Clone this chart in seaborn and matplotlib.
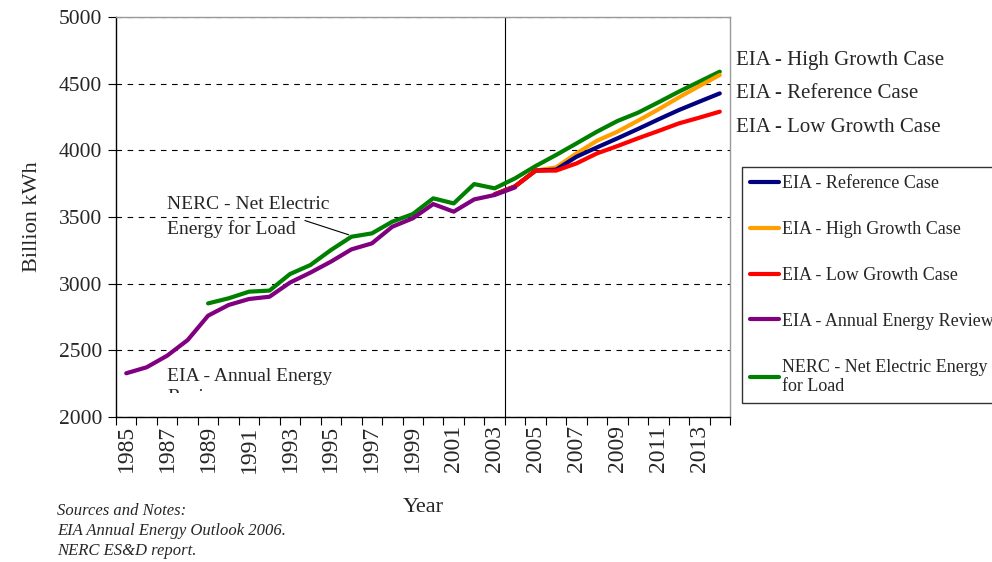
import numpy as np
import pandas as pd
import matplotlib
matplotlib.use("Agg")
import matplotlib.pyplot as plt
from matplotlib.patches import Rectangle
import seaborn as sns

# data (billion kWh)
years_aer = list(range(1985, 2005))
aer = [2328, 2373, 2460, 2577, 2760, 2840, 2885, 2902, 3008, 3083,
       3165, 3257, 3302, 3427, 3490, 3597, 3540, 3632, 3665, 3722]

years_nerc = list(range(1989, 2015))
nerc = [2852, 2890, 2940, 2948, 3072, 3140, 3252, 3352, 3377, 3465,
        3522, 3640, 3602, 3747, 3715, 3790, 3882, 3965, 4052, 4140,
        4220, 4282, 4360, 4440, 4515, 4590]

years_proj = list(range(2003, 2015))
ref_case = [3670, 3730, 3848, 3855, 3952, 4022, 4090, 4160, 4232, 4302, 4365, 4427]
high_case = [3670, 3730, 3848, 3872, 3977, 4072, 4140, 4222, 4307, 4397, 4482, 4565]
low_case = [3670, 3730, 3848, 3848, 3902, 3977, 4032, 4090, 4145, 4202, 4245, 4290]

year_labels = list(range(1985, 2015, 2))

sns.set_theme(style="white")
plt.rcParams["font.family"] = ["Liberation Serif", "DejaVu Serif"]

fig = plt.figure(figsize=(9.92, 5.62), dpi=100)
ax = fig.add_axes([116/992, 1-417/562, 614/992, 400/562])

series = [
    ("EIA - Reference Case", years_proj, ref_case, "#000080"),
    ("EIA - High Growth Case", years_proj, high_case, "#FFA000"),
    ("EIA - Low Growth Case", years_proj, low_case, "#FF0000"),
    ("EIA - Annual Energy Review", years_aer, aer, "#800080"),
    ("NERC - Net Electric Energy\nfor Load", years_nerc, nerc, "#008000"),
]
zorders = [4, 3, 5, 6, 2]
for (name, x, y, c), z in zip(series, zorders):
    df = pd.DataFrame({"Year": x, "kWh": y})
    sns.lineplot(data=df, x="Year", y="kWh", color=c, lw=3, label=name,
                 ax=ax, zorder=z, legend=False)

ax.set_xlim(1984.5, 2014.5)
ax.set_ylim(2000, 5000)
ax.set_yticks(np.arange(2000, 5001, 500))
ax.yaxis.grid(True, color="black", ls=(0, (5, 5)), lw=0.8)
ax.xaxis.grid(False)
ax.axvline(2003.5, color="black", lw=0.8, zorder=1)

ax.set_xticks(np.arange(1984.5, 2015, 1))
ax.set_xticklabels([])
ax.set_xticks(year_labels, minor=True)
ax.set_xticklabels([str(y) for y in year_labels], minor=True, rotation=90, fontsize=17)
ax.tick_params(axis="x", which="major", direction="out", length=6, width=0.8,
               color="black", bottom=True)
ax.tick_params(axis="x", which="minor", length=0, pad=6)
ax.tick_params(axis="y", direction="out", length=6, width=0.8, color="black",
               left=True, labelsize=15.5, pad=4)

for side in ["left", "bottom"]:
    ax.spines[side].set_color("black")
    ax.spines[side].set_linewidth(1.0)
for side in ["top", "right"]:
    ax.spines[side].set_color("#999999")
    ax.spines[side].set_linewidth(1.0)

ax.set_xlabel("Year", fontsize=16, labelpad=18)
ax.set_ylabel("Billion kWh", fontsize=16, labelpad=12)

# in-chart labels
ax.text(1987.0, 3500, "NERC - Net Electric\nEnergy for Load", fontsize=14,
        va="center", ha="left", linespacing=1.45)
ax.annotate("", xy=(1996.0, 3360), xytext=(1993.6, 3480),
            arrowprops=dict(arrowstyle="-", color="black", lw=0.8))
t = ax.text(1987.0, 2370, "EIA - Annual Energy\nReview", fontsize=14,
            va="top", ha="left", linespacing=1.35, clip_on=True)
t.set_clip_path(Rectangle((1984.5, 2180), 20, 300, transform=ax.transData))

fig.text(736/992, 1-60/562, "EIA - High Growth Case", fontsize=15, va="center")
fig.text(736/992, 1-93/562, "EIA - Reference Case", fontsize=15, va="center")
fig.text(736/992, 1-127/562, "EIA - Low Growth Case", fontsize=15, va="center")

fig.text(57/992, 1-531/562, "Sources and Notes:\nEIA Annual Energy Outlook 2006.\nNERC ES&D report.",
         fontsize=12, style="italic", va="center", ha="left", linespacing=1.3)

handles, labels = ax.get_legend_handles_labels()
leg = fig.legend(handles, labels, loc="upper left",
                 bbox_to_anchor=(742/992, 1-167/562), fontsize=13,
                 frameon=True, fancybox=False, edgecolor="black",
                 labelspacing=1.6, handlelength=1.6, handletextpad=0.15,
                 borderpad=0.45, borderaxespad=0)
leg.get_frame().set_linewidth(1.0)
for h in leg.get_lines():
    h.set_linewidth(3)

fig.savefig("out.png", dpi=100)
